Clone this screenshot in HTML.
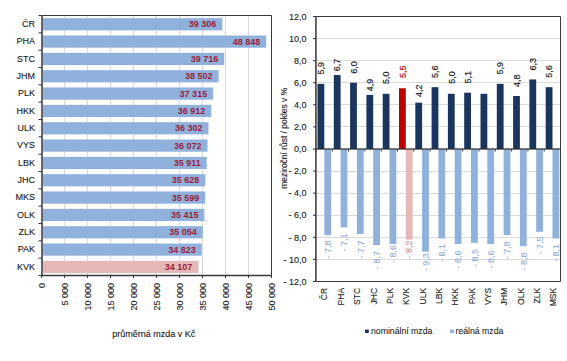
<!DOCTYPE html><html><head><meta charset="utf-8"><style>html,body{margin:0;padding:0;background:#fff;width:567px;height:361px;overflow:hidden}svg{display:block}text{font-family:"Liberation Sans", sans-serif}.d{stroke:#1a1a1a;stroke-width:0.12}</style></head><body>
<svg width="567" height="361" viewBox="0 0 567 361">
<line x1="64.50" y1="15.5" x2="64.50" y2="275.5" stroke="#D9D9D9" stroke-width="1"/>
<line x1="87.50" y1="15.5" x2="87.50" y2="275.5" stroke="#D9D9D9" stroke-width="1"/>
<line x1="110.50" y1="15.5" x2="110.50" y2="275.5" stroke="#D9D9D9" stroke-width="1"/>
<line x1="133.50" y1="15.5" x2="133.50" y2="275.5" stroke="#D9D9D9" stroke-width="1"/>
<line x1="156.50" y1="15.5" x2="156.50" y2="275.5" stroke="#D9D9D9" stroke-width="1"/>
<line x1="179.50" y1="15.5" x2="179.50" y2="275.5" stroke="#D9D9D9" stroke-width="1"/>
<line x1="202.50" y1="15.5" x2="202.50" y2="275.5" stroke="#D9D9D9" stroke-width="1"/>
<line x1="225.50" y1="15.5" x2="225.50" y2="275.5" stroke="#D9D9D9" stroke-width="1"/>
<line x1="248.50" y1="15.5" x2="248.50" y2="275.5" stroke="#D9D9D9" stroke-width="1"/>
<rect x="42.5" y="18.17" width="179.81" height="12.20" fill="#90B1DC"/>
<text x="216.31" y="27.17" font-size="9" font-weight="bold" fill="#9A1F3A" text-anchor="end">39 306</text>
<text x="35" y="27.07" font-size="9" fill="#1a1a1a" class="d" text-anchor="end">ČR</text>
<rect x="42.5" y="35.50" width="223.70" height="12.20" fill="#90B1DC"/>
<text x="260.20" y="44.50" font-size="9" font-weight="bold" fill="#9A1F3A" text-anchor="end">48 848</text>
<text x="35" y="44.40" font-size="9" fill="#1a1a1a" class="d" text-anchor="end">PHA</text>
<rect x="42.5" y="52.83" width="181.69" height="12.20" fill="#90B1DC"/>
<text x="218.19" y="61.83" font-size="9" font-weight="bold" fill="#9A1F3A" text-anchor="end">39 716</text>
<text x="35" y="61.73" font-size="9" fill="#1a1a1a" class="d" text-anchor="end">STC</text>
<rect x="42.5" y="70.17" width="176.11" height="12.20" fill="#90B1DC"/>
<text x="212.61" y="79.17" font-size="9" font-weight="bold" fill="#9A1F3A" text-anchor="end">38 502</text>
<text x="35" y="79.07" font-size="9" fill="#1a1a1a" class="d" text-anchor="end">JHM</text>
<rect x="42.5" y="87.50" width="170.65" height="12.20" fill="#90B1DC"/>
<text x="207.15" y="96.50" font-size="9" font-weight="bold" fill="#9A1F3A" text-anchor="end">37 315</text>
<text x="35" y="96.40" font-size="9" fill="#1a1a1a" class="d" text-anchor="end">PLK</text>
<rect x="42.5" y="104.83" width="168.80" height="12.20" fill="#90B1DC"/>
<text x="205.30" y="113.83" font-size="9" font-weight="bold" fill="#9A1F3A" text-anchor="end">36 912</text>
<text x="35" y="113.73" font-size="9" fill="#1a1a1a" class="d" text-anchor="end">HKK</text>
<rect x="42.5" y="122.17" width="165.99" height="12.20" fill="#90B1DC"/>
<text x="202.49" y="131.17" font-size="9" font-weight="bold" fill="#9A1F3A" text-anchor="end">36 302</text>
<text x="35" y="131.07" font-size="9" fill="#1a1a1a" class="d" text-anchor="end">ULK</text>
<rect x="42.5" y="139.50" width="164.93" height="12.20" fill="#90B1DC"/>
<text x="201.43" y="148.50" font-size="9" font-weight="bold" fill="#9A1F3A" text-anchor="end">36 072</text>
<text x="35" y="148.40" font-size="9" fill="#1a1a1a" class="d" text-anchor="end">VYS</text>
<rect x="42.5" y="156.83" width="164.19" height="12.20" fill="#90B1DC"/>
<text x="200.69" y="165.83" font-size="9" font-weight="bold" fill="#9A1F3A" text-anchor="end">35 911</text>
<text x="35" y="165.73" font-size="9" fill="#1a1a1a" class="d" text-anchor="end">LBK</text>
<rect x="42.5" y="174.17" width="162.89" height="12.20" fill="#90B1DC"/>
<text x="199.39" y="183.17" font-size="9" font-weight="bold" fill="#9A1F3A" text-anchor="end">35 628</text>
<text x="35" y="183.07" font-size="9" fill="#1a1a1a" class="d" text-anchor="end">JHC</text>
<rect x="42.5" y="191.50" width="162.76" height="12.20" fill="#90B1DC"/>
<text x="199.26" y="200.50" font-size="9" font-weight="bold" fill="#9A1F3A" text-anchor="end">35 599</text>
<text x="35" y="200.40" font-size="9" fill="#1a1a1a" class="d" text-anchor="end">MKS</text>
<rect x="42.5" y="208.83" width="161.91" height="12.20" fill="#90B1DC"/>
<text x="198.41" y="217.83" font-size="9" font-weight="bold" fill="#9A1F3A" text-anchor="end">35 415</text>
<text x="35" y="217.73" font-size="9" fill="#1a1a1a" class="d" text-anchor="end">OLK</text>
<rect x="42.5" y="226.17" width="160.25" height="12.20" fill="#90B1DC"/>
<text x="196.75" y="235.17" font-size="9" font-weight="bold" fill="#9A1F3A" text-anchor="end">35 054</text>
<text x="35" y="235.07" font-size="9" fill="#1a1a1a" class="d" text-anchor="end">ZLK</text>
<rect x="42.5" y="243.50" width="159.19" height="12.20" fill="#90B1DC"/>
<text x="195.69" y="252.50" font-size="9" font-weight="bold" fill="#9A1F3A" text-anchor="end">34 823</text>
<text x="35" y="252.40" font-size="9" fill="#1a1a1a" class="d" text-anchor="end">PAK</text>
<rect x="42.5" y="260.83" width="155.89" height="12.20" fill="#E6B9B8"/>
<text x="192.39" y="269.83" font-size="9" font-weight="bold" fill="#9A1F3A" text-anchor="end">34 107</text>
<text x="35" y="269.73" font-size="9" fill="#1a1a1a" class="d" text-anchor="end">KVK</text>
<line x1="41.5" y1="15.5" x2="271.5" y2="15.5" stroke="#383838" stroke-width="1"/>
<line x1="271.5" y1="15.5" x2="271.5" y2="275.5" stroke="#383838" stroke-width="1"/>
<rect x="41" y="15.0" width="2" height="261.0" fill="#626672"/>
<line x1="41.5" y1="275.5" x2="271.5" y2="275.5" stroke="#383838" stroke-width="1.3"/>
<line x1="38.5" y1="15.50" x2="41.5" y2="15.50" stroke="#333" stroke-width="1"/>
<line x1="38.5" y1="32.83" x2="41.5" y2="32.83" stroke="#333" stroke-width="1"/>
<line x1="38.5" y1="50.17" x2="41.5" y2="50.17" stroke="#333" stroke-width="1"/>
<line x1="38.5" y1="67.50" x2="41.5" y2="67.50" stroke="#333" stroke-width="1"/>
<line x1="38.5" y1="84.83" x2="41.5" y2="84.83" stroke="#333" stroke-width="1"/>
<line x1="38.5" y1="102.17" x2="41.5" y2="102.17" stroke="#333" stroke-width="1"/>
<line x1="38.5" y1="119.50" x2="41.5" y2="119.50" stroke="#333" stroke-width="1"/>
<line x1="38.5" y1="136.83" x2="41.5" y2="136.83" stroke="#333" stroke-width="1"/>
<line x1="38.5" y1="154.17" x2="41.5" y2="154.17" stroke="#333" stroke-width="1"/>
<line x1="38.5" y1="171.50" x2="41.5" y2="171.50" stroke="#333" stroke-width="1"/>
<line x1="38.5" y1="188.83" x2="41.5" y2="188.83" stroke="#333" stroke-width="1"/>
<line x1="38.5" y1="206.17" x2="41.5" y2="206.17" stroke="#333" stroke-width="1"/>
<line x1="38.5" y1="223.50" x2="41.5" y2="223.50" stroke="#333" stroke-width="1"/>
<line x1="38.5" y1="240.83" x2="41.5" y2="240.83" stroke="#333" stroke-width="1"/>
<line x1="38.5" y1="258.17" x2="41.5" y2="258.17" stroke="#333" stroke-width="1"/>
<line x1="38.5" y1="275.50" x2="41.5" y2="275.50" stroke="#333" stroke-width="1"/>
<line x1="41.50" y1="275.5" x2="41.50" y2="278.0" stroke="#333" stroke-width="1"/>
<text transform="translate(44.80,283) rotate(-90)" font-size="9" fill="#1a1a1a" class="d" text-anchor="end">0</text>
<line x1="64.50" y1="275.5" x2="64.50" y2="278.0" stroke="#333" stroke-width="1"/>
<text transform="translate(67.80,283) rotate(-90)" font-size="9" fill="#1a1a1a" class="d" text-anchor="end">5 000</text>
<line x1="87.50" y1="275.5" x2="87.50" y2="278.0" stroke="#333" stroke-width="1"/>
<text transform="translate(90.80,283) rotate(-90)" font-size="9" fill="#1a1a1a" class="d" text-anchor="end">10 000</text>
<line x1="110.50" y1="275.5" x2="110.50" y2="278.0" stroke="#333" stroke-width="1"/>
<text transform="translate(113.80,283) rotate(-90)" font-size="9" fill="#1a1a1a" class="d" text-anchor="end">15 000</text>
<line x1="133.50" y1="275.5" x2="133.50" y2="278.0" stroke="#333" stroke-width="1"/>
<text transform="translate(136.80,283) rotate(-90)" font-size="9" fill="#1a1a1a" class="d" text-anchor="end">20 000</text>
<line x1="156.50" y1="275.5" x2="156.50" y2="278.0" stroke="#333" stroke-width="1"/>
<text transform="translate(159.80,283) rotate(-90)" font-size="9" fill="#1a1a1a" class="d" text-anchor="end">25 000</text>
<line x1="179.50" y1="275.5" x2="179.50" y2="278.0" stroke="#333" stroke-width="1"/>
<text transform="translate(182.80,283) rotate(-90)" font-size="9" fill="#1a1a1a" class="d" text-anchor="end">30 000</text>
<line x1="202.50" y1="275.5" x2="202.50" y2="278.0" stroke="#333" stroke-width="1"/>
<text transform="translate(205.80,283) rotate(-90)" font-size="9" fill="#1a1a1a" class="d" text-anchor="end">35 000</text>
<line x1="225.50" y1="275.5" x2="225.50" y2="278.0" stroke="#333" stroke-width="1"/>
<text transform="translate(228.80,283) rotate(-90)" font-size="9" fill="#1a1a1a" class="d" text-anchor="end">40 000</text>
<line x1="248.50" y1="275.5" x2="248.50" y2="278.0" stroke="#333" stroke-width="1"/>
<text transform="translate(251.80,283) rotate(-90)" font-size="9" fill="#1a1a1a" class="d" text-anchor="end">45 000</text>
<line x1="271.50" y1="275.5" x2="271.50" y2="278.0" stroke="#333" stroke-width="1"/>
<text transform="translate(274.80,283) rotate(-90)" font-size="9" fill="#1a1a1a" class="d" text-anchor="end">50 000</text>
<text x="112.3" y="336.5" font-size="9" fill="#1a1a1a" class="d">průměrná mzda v Kč</text>
<line x1="316.0" y1="38.50" x2="560.5" y2="38.50" stroke="#D9D9D9" stroke-width="1"/>
<line x1="316.0" y1="60.50" x2="560.5" y2="60.50" stroke="#D9D9D9" stroke-width="1"/>
<line x1="316.0" y1="82.50" x2="560.5" y2="82.50" stroke="#D9D9D9" stroke-width="1"/>
<line x1="316.0" y1="104.50" x2="560.5" y2="104.50" stroke="#D9D9D9" stroke-width="1"/>
<line x1="316.0" y1="126.50" x2="560.5" y2="126.50" stroke="#D9D9D9" stroke-width="1"/>
<line x1="316.0" y1="171.50" x2="560.5" y2="171.50" stroke="#D9D9D9" stroke-width="1"/>
<line x1="316.0" y1="193.50" x2="560.5" y2="193.50" stroke="#D9D9D9" stroke-width="1"/>
<line x1="316.0" y1="215.50" x2="560.5" y2="215.50" stroke="#D9D9D9" stroke-width="1"/>
<line x1="316.0" y1="237.50" x2="560.5" y2="237.50" stroke="#D9D9D9" stroke-width="1"/>
<line x1="316.0" y1="259.50" x2="560.5" y2="259.50" stroke="#D9D9D9" stroke-width="1"/>
<rect x="317.50" y="83.85" width="6.8" height="65.15" fill="#1B365E"/>
<rect x="324.30" y="149.00" width="6.8" height="86.12" fill="#90B1DC"/>
<text transform="translate(324.10,74.60) rotate(-90)" font-size="9" fill="#1a1a1a" stroke="#1a1a1a" stroke-width="0.18">5,9</text>
<text transform="translate(330.90,240.60) rotate(-90)" font-size="9" fill="#82A3D3" text-anchor="end">- 7,8</text>
<text transform="translate(327.45,287.8) rotate(-90) scale(0.93,1)" font-size="9.2" fill="#1a1a1a" class="d" text-anchor="end">ČR</text>
<rect x="333.80" y="75.02" width="6.8" height="73.98" fill="#1B365E"/>
<rect x="340.60" y="149.00" width="6.8" height="78.40" fill="#90B1DC"/>
<text transform="translate(340.40,71.30) rotate(-90)" font-size="9" fill="#1a1a1a" stroke="#1a1a1a" stroke-width="0.18">6,7</text>
<text transform="translate(347.20,233.60) rotate(-90)" font-size="9" fill="#82A3D3" text-anchor="end">- 7,1</text>
<text transform="translate(343.81,287.8) rotate(-90) scale(0.93,1)" font-size="9.2" fill="#1a1a1a" class="d" text-anchor="end">PHA</text>
<rect x="350.10" y="82.75" width="6.8" height="66.25" fill="#1B365E"/>
<rect x="356.90" y="149.00" width="6.8" height="85.02" fill="#90B1DC"/>
<text transform="translate(356.70,73.80) rotate(-90)" font-size="9" fill="#1a1a1a" stroke="#1a1a1a" stroke-width="0.18">6,0</text>
<text transform="translate(363.50,240.60) rotate(-90)" font-size="9" fill="#82A3D3" text-anchor="end">- 7,7</text>
<text transform="translate(360.17,287.8) rotate(-90) scale(0.93,1)" font-size="9.2" fill="#1a1a1a" class="d" text-anchor="end">STC</text>
<rect x="366.40" y="94.90" width="6.8" height="54.10" fill="#1B365E"/>
<rect x="373.20" y="149.00" width="6.8" height="96.06" fill="#90B1DC"/>
<text transform="translate(373.00,91.20) rotate(-90)" font-size="9" fill="#1a1a1a" stroke="#1a1a1a" stroke-width="0.18">4,9</text>
<text transform="translate(379.80,251.10) rotate(-90)" font-size="9" fill="#82A3D3" text-anchor="end">- 8,7</text>
<text transform="translate(376.53,287.8) rotate(-90) scale(0.93,1)" font-size="9.2" fill="#1a1a1a" class="d" text-anchor="end">JHC</text>
<rect x="382.70" y="93.79" width="6.8" height="55.21" fill="#1B365E"/>
<rect x="389.50" y="149.00" width="6.8" height="94.96" fill="#90B1DC"/>
<text transform="translate(389.30,84.10) rotate(-90)" font-size="9" fill="#1a1a1a" stroke="#1a1a1a" stroke-width="0.18">5,0</text>
<text transform="translate(396.10,245.10) rotate(-90)" font-size="9" fill="#82A3D3" text-anchor="end">- 8,6</text>
<text transform="translate(392.89,287.8) rotate(-90) scale(0.93,1)" font-size="9.2" fill="#1a1a1a" class="d" text-anchor="end">PLK</text>
<rect x="399.00" y="88.27" width="6.8" height="60.73" fill="#C00000"/>
<rect x="405.80" y="149.00" width="6.8" height="90.54" fill="#E6B9B8"/>
<text transform="translate(405.60,77.90) rotate(-90)" font-size="9" fill="#C00000" stroke="#C00000" stroke-width="0.18">5,5</text>
<text transform="translate(412.40,240.60) rotate(-90)" font-size="9" fill="#CC8080" text-anchor="end">- 8,2</text>
<text transform="translate(409.25,287.8) rotate(-90) scale(0.93,1)" font-size="9.2" fill="#1a1a1a" class="d" text-anchor="end">KVK</text>
<rect x="415.30" y="102.62" width="6.8" height="46.38" fill="#1B365E"/>
<rect x="422.10" y="149.00" width="6.8" height="102.69" fill="#90B1DC"/>
<text transform="translate(421.90,97.00) rotate(-90)" font-size="9" fill="#1a1a1a" stroke="#1a1a1a" stroke-width="0.18">4,2</text>
<text transform="translate(428.70,253.20) rotate(-90)" font-size="9" fill="#82A3D3" text-anchor="end">- 9,3</text>
<text transform="translate(425.61,287.8) rotate(-90) scale(0.93,1)" font-size="9.2" fill="#1a1a1a" class="d" text-anchor="end">ULK</text>
<rect x="431.60" y="87.17" width="6.8" height="61.83" fill="#1B365E"/>
<rect x="438.40" y="149.00" width="6.8" height="89.44" fill="#90B1DC"/>
<text transform="translate(438.20,77.90) rotate(-90)" font-size="9" fill="#1a1a1a" stroke="#1a1a1a" stroke-width="0.18">5,6</text>
<text transform="translate(445.00,244.10) rotate(-90)" font-size="9" fill="#82A3D3" text-anchor="end">- 8,1</text>
<text transform="translate(441.97,287.8) rotate(-90) scale(0.93,1)" font-size="9.2" fill="#1a1a1a" class="d" text-anchor="end">LBK</text>
<rect x="447.90" y="93.79" width="6.8" height="55.21" fill="#1B365E"/>
<rect x="454.70" y="149.00" width="6.8" height="94.96" fill="#90B1DC"/>
<text transform="translate(454.50,83.70) rotate(-90)" font-size="9" fill="#1a1a1a" stroke="#1a1a1a" stroke-width="0.18">5,0</text>
<text transform="translate(461.30,250.60) rotate(-90)" font-size="9" fill="#82A3D3" text-anchor="end">- 8,6</text>
<text transform="translate(458.33,287.8) rotate(-90) scale(0.93,1)" font-size="9.2" fill="#1a1a1a" class="d" text-anchor="end">HKK</text>
<rect x="464.20" y="92.69" width="6.8" height="56.31" fill="#1B365E"/>
<rect x="471.00" y="149.00" width="6.8" height="93.85" fill="#90B1DC"/>
<text transform="translate(470.80,83.40) rotate(-90)" font-size="9" fill="#1a1a1a" stroke="#1a1a1a" stroke-width="0.18">5,1</text>
<text transform="translate(477.60,249.00) rotate(-90)" font-size="9" fill="#82A3D3" text-anchor="end">- 8,5</text>
<text transform="translate(474.69,287.8) rotate(-90) scale(0.93,1)" font-size="9.2" fill="#1a1a1a" class="d" text-anchor="end">PAK</text>
<rect x="480.50" y="93.79" width="6.8" height="55.21" fill="#1B365E"/>
<rect x="487.30" y="149.00" width="6.8" height="94.96" fill="#90B1DC"/>
<text transform="translate(493.90,250.60) rotate(-90)" font-size="9" fill="#82A3D3" text-anchor="end">- 8,6</text>
<text transform="translate(491.05,287.8) rotate(-90) scale(0.93,1)" font-size="9.2" fill="#1a1a1a" class="d" text-anchor="end">VYS</text>
<rect x="496.80" y="83.85" width="6.8" height="65.15" fill="#1B365E"/>
<rect x="503.60" y="149.00" width="6.8" height="86.12" fill="#90B1DC"/>
<text transform="translate(503.40,74.60) rotate(-90)" font-size="9" fill="#1a1a1a" stroke="#1a1a1a" stroke-width="0.18">5,9</text>
<text transform="translate(510.20,241.20) rotate(-90)" font-size="9" fill="#82A3D3" text-anchor="end">- 7,8</text>
<text transform="translate(507.41,287.8) rotate(-90) scale(0.93,1)" font-size="9.2" fill="#1a1a1a" class="d" text-anchor="end">JHM</text>
<rect x="513.10" y="96.00" width="6.8" height="53.00" fill="#1B365E"/>
<rect x="519.90" y="149.00" width="6.8" height="97.17" fill="#90B1DC"/>
<text transform="translate(519.70,87.10) rotate(-90)" font-size="9" fill="#1a1a1a" stroke="#1a1a1a" stroke-width="0.18">4,8</text>
<text transform="translate(526.50,252.40) rotate(-90)" font-size="9" fill="#82A3D3" text-anchor="end">- 8,8</text>
<text transform="translate(523.77,287.8) rotate(-90) scale(0.93,1)" font-size="9.2" fill="#1a1a1a" class="d" text-anchor="end">OLK</text>
<rect x="529.40" y="79.44" width="6.8" height="69.56" fill="#1B365E"/>
<rect x="536.20" y="149.00" width="6.8" height="82.81" fill="#90B1DC"/>
<text transform="translate(536.00,70.40) rotate(-90)" font-size="9" fill="#1a1a1a" stroke="#1a1a1a" stroke-width="0.18">6,3</text>
<text transform="translate(542.80,236.60) rotate(-90)" font-size="9" fill="#82A3D3" text-anchor="end">- 7,5</text>
<text transform="translate(540.13,287.8) rotate(-90) scale(0.93,1)" font-size="9.2" fill="#1a1a1a" class="d" text-anchor="end">ZLK</text>
<rect x="545.70" y="87.17" width="6.8" height="61.83" fill="#1B365E"/>
<rect x="552.50" y="149.00" width="6.8" height="89.44" fill="#90B1DC"/>
<text transform="translate(552.30,77.80) rotate(-90)" font-size="9" fill="#1a1a1a" stroke="#1a1a1a" stroke-width="0.18">5,6</text>
<text transform="translate(559.10,244.10) rotate(-90)" font-size="9" fill="#82A3D3" text-anchor="end">- 8,1</text>
<text transform="translate(556.49,287.8) rotate(-90) scale(0.93,1)" font-size="9.2" fill="#1a1a1a" class="d" text-anchor="end">MSK</text>
<line x1="316.0" y1="16.5" x2="560.5" y2="16.5" stroke="#383838" stroke-width="1"/>
<line x1="560.5" y1="16.5" x2="560.5" y2="281.5" stroke="#383838" stroke-width="1"/>
<line x1="316.0" y1="281.5" x2="560.5" y2="281.5" stroke="#383838" stroke-width="1"/>
<rect x="315" y="16.0" width="1.8" height="266.0" fill="#555555"/>
<rect x="316.0" y="148.4" width="244.5" height="1.2" fill="#2a2a2a"/>
<line x1="316.00" y1="149.00" x2="316.00" y2="151.50" stroke="#333" stroke-width="1"/>
<line x1="332.30" y1="149.00" x2="332.30" y2="151.50" stroke="#333" stroke-width="1"/>
<line x1="348.60" y1="149.00" x2="348.60" y2="151.50" stroke="#333" stroke-width="1"/>
<line x1="364.90" y1="149.00" x2="364.90" y2="151.50" stroke="#333" stroke-width="1"/>
<line x1="381.20" y1="149.00" x2="381.20" y2="151.50" stroke="#333" stroke-width="1"/>
<line x1="397.50" y1="149.00" x2="397.50" y2="151.50" stroke="#333" stroke-width="1"/>
<line x1="413.80" y1="149.00" x2="413.80" y2="151.50" stroke="#333" stroke-width="1"/>
<line x1="430.10" y1="149.00" x2="430.10" y2="151.50" stroke="#333" stroke-width="1"/>
<line x1="446.40" y1="149.00" x2="446.40" y2="151.50" stroke="#333" stroke-width="1"/>
<line x1="462.70" y1="149.00" x2="462.70" y2="151.50" stroke="#333" stroke-width="1"/>
<line x1="479.00" y1="149.00" x2="479.00" y2="151.50" stroke="#333" stroke-width="1"/>
<line x1="495.30" y1="149.00" x2="495.30" y2="151.50" stroke="#333" stroke-width="1"/>
<line x1="511.60" y1="149.00" x2="511.60" y2="151.50" stroke="#333" stroke-width="1"/>
<line x1="527.90" y1="149.00" x2="527.90" y2="151.50" stroke="#333" stroke-width="1"/>
<line x1="544.20" y1="149.00" x2="544.20" y2="151.50" stroke="#333" stroke-width="1"/>
<line x1="560.50" y1="149.00" x2="560.50" y2="151.50" stroke="#333" stroke-width="1"/>
<line x1="313.0" y1="16.50" x2="316.0" y2="16.50" stroke="#333" stroke-width="1"/>
<text x="306.5" y="19.70" font-size="9" fill="#1a1a1a" class="d" text-anchor="end">12,0</text>
<line x1="313.0" y1="38.58" x2="316.0" y2="38.58" stroke="#333" stroke-width="1"/>
<text x="306.5" y="41.78" font-size="9" fill="#1a1a1a" class="d" text-anchor="end">10,0</text>
<line x1="313.0" y1="60.67" x2="316.0" y2="60.67" stroke="#333" stroke-width="1"/>
<text x="306.5" y="63.87" font-size="9" fill="#1a1a1a" class="d" text-anchor="end">8,0</text>
<line x1="313.0" y1="82.75" x2="316.0" y2="82.75" stroke="#333" stroke-width="1"/>
<text x="306.5" y="85.95" font-size="9" fill="#1a1a1a" class="d" text-anchor="end">6,0</text>
<line x1="313.0" y1="104.83" x2="316.0" y2="104.83" stroke="#333" stroke-width="1"/>
<text x="306.5" y="108.03" font-size="9" fill="#1a1a1a" class="d" text-anchor="end">4,0</text>
<line x1="313.0" y1="126.92" x2="316.0" y2="126.92" stroke="#333" stroke-width="1"/>
<text x="306.5" y="130.12" font-size="9" fill="#1a1a1a" class="d" text-anchor="end">2,0</text>
<line x1="313.0" y1="149.00" x2="316.0" y2="149.00" stroke="#333" stroke-width="1"/>
<text x="306.5" y="152.20" font-size="9" fill="#1a1a1a" class="d" text-anchor="end">0,0</text>
<line x1="313.0" y1="171.08" x2="316.0" y2="171.08" stroke="#333" stroke-width="1"/>
<text x="306.5" y="174.28" font-size="9" fill="#1a1a1a" class="d" text-anchor="end">- 2,0</text>
<line x1="313.0" y1="193.17" x2="316.0" y2="193.17" stroke="#333" stroke-width="1"/>
<text x="306.5" y="196.37" font-size="9" fill="#1a1a1a" class="d" text-anchor="end">- 4,0</text>
<line x1="313.0" y1="215.25" x2="316.0" y2="215.25" stroke="#333" stroke-width="1"/>
<text x="306.5" y="218.45" font-size="9" fill="#1a1a1a" class="d" text-anchor="end">- 6,0</text>
<line x1="313.0" y1="237.33" x2="316.0" y2="237.33" stroke="#333" stroke-width="1"/>
<text x="306.5" y="240.53" font-size="9" fill="#1a1a1a" class="d" text-anchor="end">- 8,0</text>
<line x1="313.0" y1="259.42" x2="316.0" y2="259.42" stroke="#333" stroke-width="1"/>
<text x="306.5" y="262.62" font-size="9" fill="#1a1a1a" class="d" text-anchor="end">- 10,0</text>
<line x1="313.0" y1="281.50" x2="316.0" y2="281.50" stroke="#333" stroke-width="1"/>
<text x="306.5" y="284.70" font-size="9" fill="#1a1a1a" class="d" text-anchor="end">- 12,0</text>
<text transform="translate(286.8,138.3) rotate(-90) scale(0.94,1)" font-size="9" fill="#1a1a1a" class="d" text-anchor="middle">meziroční růst / pokles v %</text>
<rect x="365" y="329.5" width="3.8" height="3.5" fill="#1B365E"/>
<text x="371" y="334" font-size="8.7" fill="#1a1a1a" stroke="#1a1a1a" stroke-width="0.08">nominální mzda</text>
<rect x="450" y="329.5" width="3.8" height="3.5" fill="#90B1DC"/>
<text x="455.5" y="334" font-size="8.7" fill="#1a1a1a" stroke="#1a1a1a" stroke-width="0.08">reálná mzda</text>
<line x1="563.5" y1="15" x2="563.5" y2="292" stroke="#F4F4F4" stroke-width="1"/>
</svg></body></html>
